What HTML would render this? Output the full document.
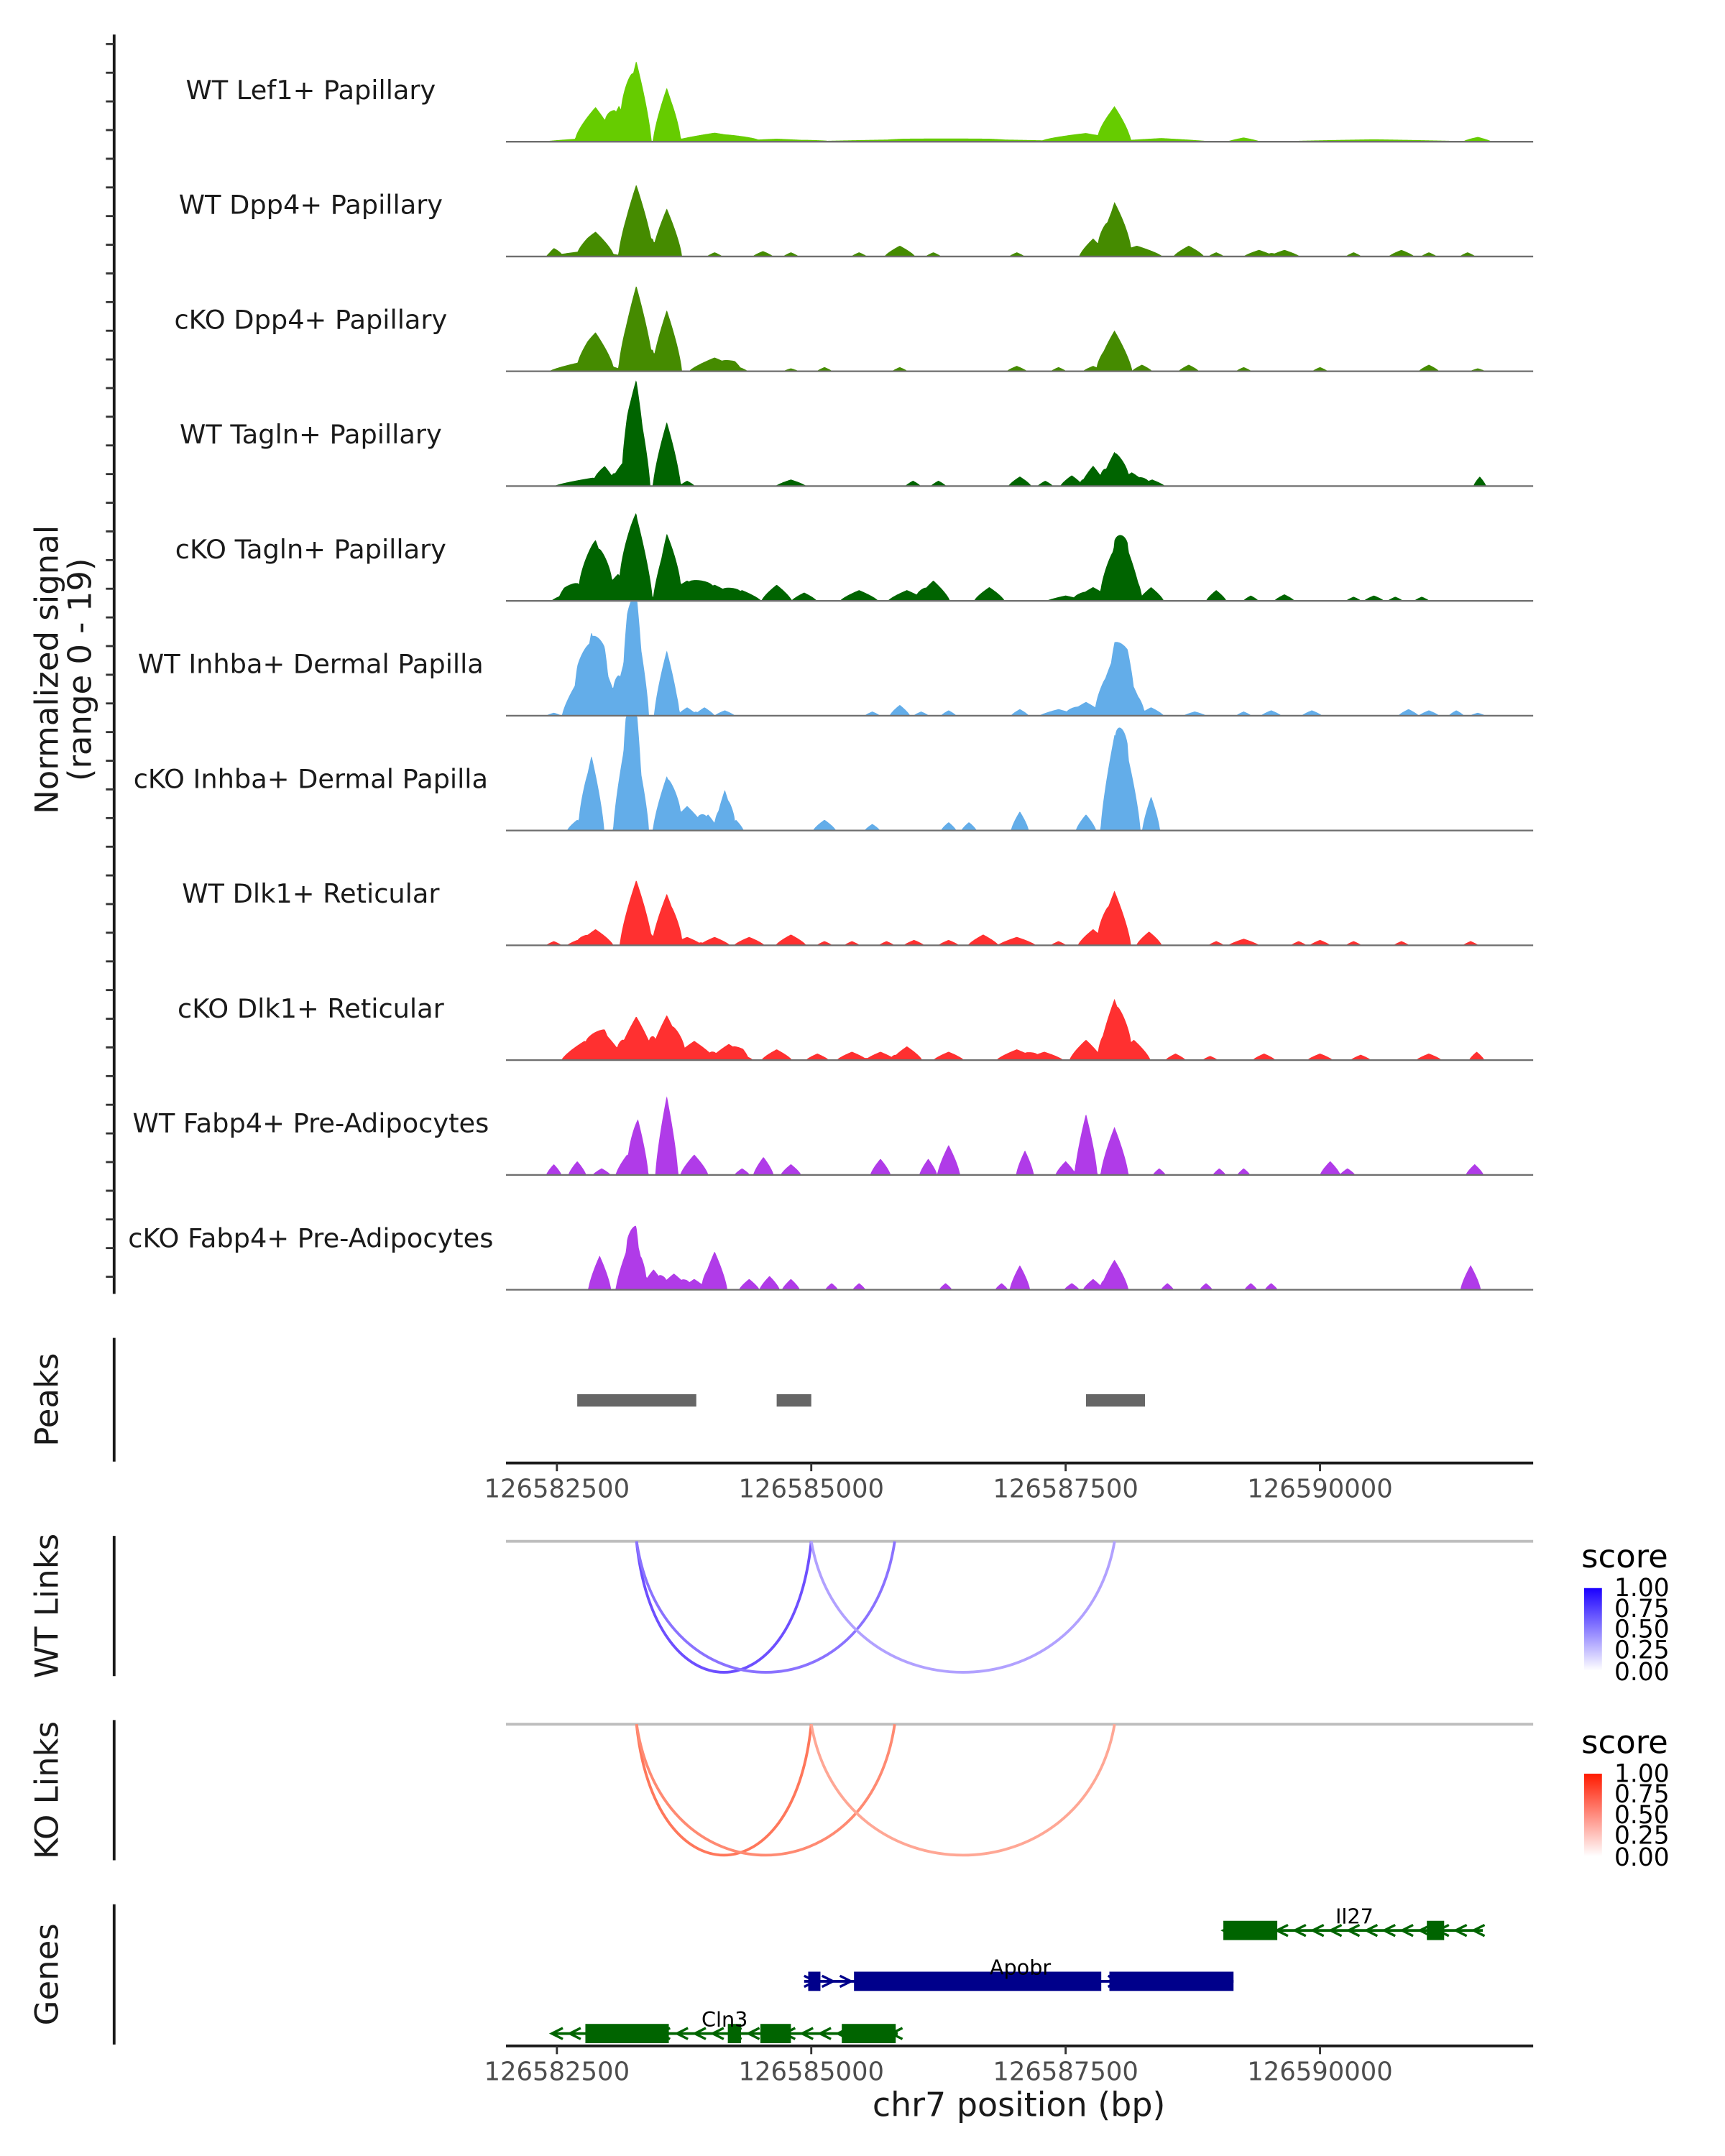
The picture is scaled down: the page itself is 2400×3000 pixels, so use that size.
<!DOCTYPE html>
<html><head><meta charset="utf-8">
<style>html,body{margin:0;padding:0;background:#fff}svg{display:block}text{font-family:"DejaVu Sans","Liberation Sans",sans-serif}</style>
</head><body>
<svg id="chart" xmlns="http://www.w3.org/2000/svg" width="2400" height="3000" viewBox="0 0 1254.5 1568">
<defs>
<linearGradient id="gBlue" x1="0" y1="1" x2="0" y2="0"><stop offset="0" stop-color="#ffffff"/><stop offset="1" stop-color="#1a00ff"/></linearGradient>
<linearGradient id="gRed" x1="0" y1="1" x2="0" y2="0"><stop offset="0" stop-color="#ffffff"/><stop offset="1" stop-color="#ff1a00"/></linearGradient>
</defs>
<g id="tracks"></g>
<text transform="translate(42,487) rotate(-90)" text-anchor="middle" font-size="23.5" fill="#1a1a1a">Normalized signal</text>
<text transform="translate(66,487) rotate(-90)" text-anchor="middle" font-size="23.5" fill="#1a1a1a">(range 0 - 19)</text>
<line x1="83" y1="25" x2="83" y2="941" stroke="#1a1a1a" stroke-width="2"/>
<g id="sigticks"></g>
<text transform="translate(42,1018) rotate(-90)" text-anchor="middle" font-size="23.5" fill="#1a1a1a">Peaks</text>
<line x1="83" y1="973" x2="83" y2="1063" stroke="#1a1a1a" stroke-width="2"/>
<g id="peaks"></g>
<line x1="368" y1="1064" x2="1115" y2="1064" stroke="#1a1a1a" stroke-width="2"/>
<g id="xticks1"></g>
<text transform="translate(42,1168) rotate(-90)" text-anchor="middle" font-size="23.5" fill="#1a1a1a">WT Links</text>
<line x1="83" y1="1117" x2="83" y2="1219" stroke="#1a1a1a" stroke-width="2"/>
<line x1="368" y1="1121" x2="1115" y2="1121" stroke="#bdbdbd" stroke-width="2"/>
<g id="wtlinks"></g>
<text transform="translate(42,1302) rotate(-90)" text-anchor="middle" font-size="23.5" fill="#1a1a1a">KO Links</text>
<line x1="83" y1="1251" x2="83" y2="1353" stroke="#1a1a1a" stroke-width="2"/>
<line x1="368" y1="1254" x2="1115" y2="1254" stroke="#bdbdbd" stroke-width="2"/>
<g id="kolinks"></g>
<g>
<text x="1150" y="1140" font-size="23.5" fill="#000">score</text>
<rect x="1152" y="1155" width="13" height="60" fill="url(#gBlue)"/>
<g font-size="18" fill="#000"><text x="1174" y="1161">1.00</text><text x="1174" y="1176">0.75</text><text x="1174" y="1191">0.50</text><text x="1174" y="1206">0.25</text><text x="1174" y="1222">0.00</text></g>
</g>
<g>
<text x="1150" y="1275" font-size="23.5" fill="#000">score</text>
<rect x="1152" y="1290" width="13" height="60" fill="url(#gRed)"/>
<g font-size="18" fill="#000"><text x="1174" y="1296">1.00</text><text x="1174" y="1311">0.75</text><text x="1174" y="1326">0.50</text><text x="1174" y="1341">0.25</text><text x="1174" y="1357">0.00</text></g>
</g>
<text transform="translate(42,1436) rotate(-90)" text-anchor="middle" font-size="23.5" fill="#1a1a1a">Genes</text>
<line x1="83" y1="1385" x2="83" y2="1487" stroke="#1a1a1a" stroke-width="2"/>
<g id="genes"></g>
<line x1="368" y1="1488" x2="1115" y2="1488" stroke="#1a1a1a" stroke-width="2"/>
<g id="xticks2"></g>
<text x="741" y="1539" text-anchor="middle" font-size="24" fill="#1a1a1a">chr7 position (bp)</text>
</svg>
<script>
const trackNames=["WT Lef1+ Papillary","WT Dpp4+ Papillary","cKO Dpp4+ Papillary","WT Tagln+ Papillary","cKO Tagln+ Papillary","WT Inhba+ Dermal Papilla","cKO Inhba+ Dermal Papilla","WT Dlk1+ Reticular","cKO Dlk1+ Reticular","WT Fabp4+ Pre-Adipocytes","cKO Fabp4+ Pre-Adipocytes"];
const trackColors=["#66cc00","#458b00","#458b00","#006400","#006400","#63ade9","#63ade9","#ff3030","#ff3030","#b03be8","#b03be8"];
// peaks: [center bp, height (0-19), half-width bp]
const lef1WT=[[126582700,0.5,270],[126582880,5.5,160],[126583110,6,110],[126583280,13.5,120],[126583580,9,110],[126584050,1.5,340],[126584660,0.5,400],[126585900,0.4,800],[126586750,0.4,800],[126587700,1.4,340],[126587980,5.2,130],[126588440,0.6,400],[126589250,0.7,130],[126590530,0.4,800],[126591550,0.8,110]];
const dpp4WT=[[126582470,1.2,60],[126582800,1,300],[126582880,3.3,140],[126583280,12,140],[126583580,8,120],[126584050,0.7,60],[126584525,0.9,80],[126584800,0.7,60],[126585470,0.7,60],[126585870,1.8,120],[126586200,0.7,60],[126587020,0.7,60],[126587770,3,110],[126587980,8.7,130],[126588200,1.8,200],[126588710,1.8,120],[126588980,0.7,60],[126589400,1.1,120],[126589650,1.1,120],[126590330,0.7,60],[126590800,1.1,100],[126591070,0.7,60],[126591450,0.7,60]];
const dpp4KO=[[126582800,1.8,300],[126582880,5,140],[126583280,14.3,140],[126583580,10.2,120],[126584050,2.3,200],[126584250,1,100],[126584800,0.5,60],[126585130,0.7,60],[126585870,0.7,60],[126587020,0.9,80],[126587430,0.7,60],[126587770,0.9,80],[126587980,6.8,140],[126588250,1.1,80],[126588710,1.1,80],[126589250,0.7,60],[126590000,0.7,60],[126591070,1.1,80],[126591550,0.5,60]];
const taglnWT=[[126582850,1.4,300],[126582970,2.3,80],[126583190,4.5,120],[126583280,15.5,110],[126583580,10.7,110],[126583780,0.9,60],[126584800,1.1,120],[126586000,0.9,60],[126586250,0.9,60],[126587050,1.6,90],[126587300,0.9,60],[126587560,1.8,90],[126587770,3.4,100],[126587980,5.7,110],[126588150,2.3,130],[126588350,1.1,100],[126591570,1.6,50]];
const taglnKO=[[126582570,1.1,100],[126582700,3,140],[126582880,10.2,130],[126583100,4.5,150],[126583280,14.3,130],[126583580,10.2,110],[126583780,3.4,200],[126584050,2.7,200],[126584320,1.8,150],[126584660,2.7,120],[126584930,1.4,100],[126585470,1.8,150],[126585940,1.8,150],[126586200,3.4,130],[126586750,2.3,120],[126587500,0.9,150],[126587770,2.3,150],[126587980,9.1,110],[126588110,8.6,110],[126588340,2.3,100],[126588980,1.8,80],[126589320,0.9,60],[126589650,1.1,80],[126590330,0.7,60],[126590530,0.9,80],[126590740,0.7,60],[126591000,0.7,60]];
const inhbaWT=[[126582470,0.5,60],[126582700,5.7,120],[126582840,11.4,130],[126582970,8,120],[126583190,10.9,110],[126583280,15.9,100],[126583580,10.9,100],[126583780,1.4,80],[126583950,1.4,80],[126584150,0.9,80],[126585600,0.7,60],[126585870,1.8,80],[126586080,0.7,60],[126586350,0.9,60],[126587050,1.1,70],[126587430,1.1,150],[126587700,2.3,150],[126587980,10.2,150],[126588110,6.8,130],[126588340,1.4,100],[126588770,0.7,90],[126589250,0.7,60],[126589520,0.9,80],[126589920,0.9,80],[126590870,1.1,80],[126591070,0.9,80],[126591340,0.9,60],[126591550,0.5,60]];
const inhbaKO=[[126582700,1.8,80],[126582840,12.5,100],[126583190,16.4,110],[126583280,13.6,100],[126583580,9.1,110],[126583780,4.1,150],[126583985,2.7,80],[126584150,6.8,80],[126584260,1.8,60],[126585130,1.8,90],[126585600,1.1,60],[126586350,1.4,60],[126586550,1.4,60],[126587050,3.2,70],[126587700,2.7,80],[126587980,15.9,110],[126588110,12.5,100],[126588340,5.7,70]];
const dlk1WT=[[126582470,0.7,60],[126582700,0.9,80],[126582880,2.7,140],[126583280,10.9,130],[126583580,8.6,120],[126583780,1.4,120],[126584050,1.4,120],[126584390,1.4,120],[126584800,1.8,120],[126585130,0.7,60],[126585400,0.7,60],[126585740,0.7,60],[126586010,0.9,80],[126586350,0.9,80],[126586690,1.8,120],[126587020,1.4,150],[126587430,0.7,60],[126587770,2.7,120],[126587980,9.1,130],[126588320,2.3,100],[126588980,0.7,60],[126589250,1.1,120],[126589790,0.7,60],[126590000,0.9,80],[126590330,0.7,60],[126590800,0.7,60],[126591480,0.7,60]];
const dlk1KO=[[126582770,3.2,180],[126582970,4.5,150],[126583280,7.3,150],[126583580,7.5,140],[126583850,3.2,170],[126584190,2.7,150],[126584330,0.9,80],[126584660,1.8,120],[126585060,1.1,90],[126585400,1.4,120],[126585680,1.4,120],[126585940,2.3,120],[126586350,1.4,120],[126587020,1.8,160],[126587290,1.4,150],[126587700,3.4,130],[126587980,10.2,130],[126588170,3.4,130],[126588580,1.1,80],[126588920,0.7,60],[126589450,1.1,90],[126590000,1.1,100],[126590400,0.9,80],[126591070,1.1,100],[126591540,1.4,60]];
const fabp4WT=[[126582470,1.8,60],[126582700,2.3,70],[126582940,1.1,70],[126583190,3.4,90],[126583300,9.1,80],[126583580,13.2,90],[126583850,3.4,110],[126584320,1.1,60],[126584530,3,80],[126584800,1.8,80],[126585680,2.7,80],[126586150,2.7,70],[126586350,5,90],[126587100,4.1,70],[126587500,2.3,80],[126587700,10.2,90],[126587980,8,110],[126588420,1.1,50],[126589010,1.1,50],[126589250,1.1,50],[126590100,2.3,80],[126590270,1.1,60],[126591520,1.8,70]];
const fabp4KO=[[126582920,5.7,90],[126583190,6.8,90],[126583280,8.6,80],[126583450,3.4,100],[126583650,2.7,120],[126583850,1.8,100],[126584050,6.4,100],[126584390,1.8,80],[126584590,2.3,80],[126584800,1.8,70],[126585200,1.1,50],[126585470,1.1,50],[126586320,1.1,50],[126586870,1.1,50],[126587050,4.1,80],[126587560,1.1,60],[126587770,1.8,80],[126587980,5,110],[126588500,1.1,50],[126588880,1.1,50],[126589320,1.1,50],[126589520,1.1,50],[126591480,4.1,80]];
const trackPeaks=[lef1WT,dpp4WT,dpp4KO,taglnWT,taglnKO,inhbaWT,inhbaKO,dlk1WT,dlk1KO,fabp4WT,fabp4KO];
const peakStarts=[126582700,126584660,126587700];
const peakEnds=[126583870,126585000,126588280];
const xTickValues=[126582500,126585000,126587500,126590000];
const linkStarts=[126583283,126583283,126585000];
const linkEnds=[126585000,126585820,126587981];
const wtScores=[0.75,0.6,0.4];
const koScores=[0.7,0.6,0.45];
const yMax=19;

const NS="http://www.w3.org/2000/svg";
const X0=368,X1=1115,BP0=126582000,BP1=126592095;
function xs(bp){return X0+(bp-BP0)*(X1-X0)/(BP1-BP0);}
const trackH=83;
function el(tag,attrs,parent){const e=document.createElementNS(NS,tag);for(const k in attrs)e.setAttribute(k,attrs[k]);parent.appendChild(e);return e;}
const gT=document.getElementById('tracks');
trackPeaks.forEach((pk,i)=>{
  const base=103+i*83.5;
  const g=el('g',{},gT);
  
  
  const lab=el('text',{x:226,y:base-31,'text-anchor':'middle','font-size':'19.2',fill:'#1a1a1a'},g);
  lab.textContent=trackNames[i];
  
  
  let d='M'+X0+','+base;
  for(let px=X0;px<=X1;px+=0.5){
    const bp=BP0+(px-X0)*(BP1-BP0)/(X1-X0);
    let v=0;
    pk.forEach(p=>{const t=1-Math.abs(bp-p[0])/(p[2]*1.25);if(t>0)v+=p[1]*Math.pow(t,0.75);});
    v=Math.min(v,yMax);
    d+=' L'+px.toFixed(1)+','+(base-v*trackH/yMax).toFixed(2);
  }
  d+=' L'+X1+','+base+' Z';
  const a=el('path',{d:d,fill:trackColors[i]},g);
  
  
  const bl=el('line',{x1:X0,y1:base,x2:X1,y2:base,stroke:'#6e6e6e','stroke-width':1.2},g);
  
  
});
const gST=document.getElementById('sigticks');
for(let y=32;y<=941;y+=20.85){const t=el('line',{x1:77,y1:y,x2:83,y2:y,stroke:'#333','stroke-width':1.5},gST);
  
  }
const gP=document.getElementById('peaks');
peakStarts.forEach((s,i)=>{const r=el('rect',{x:xs(s),y:1014,width:xs(peakEnds[i])-xs(s),height:9,fill:'#666'},gP);
  
  });
function ticks(id,y){const g=document.getElementById(id);xTickValues.forEach(v=>{
  const l=el('line',{x1:xs(v),y1:y,x2:xs(v),y2:y+6,stroke:'#333','stroke-width':1.5},g);
  
  
  const t=el('text',{x:xs(v),y:y+25,'text-anchor':'middle','font-size':'18.5',fill:'#4d4d4d'},g);t.textContent=v;
  
  });}
ticks('xticks1',1064);ticks('xticks2',1488);
function mix(c,s){return 'rgb('+c.map(v=>Math.round(255+(v-255)*s)).join(',')+')';}
function links(id,y0,scores,col){const g=document.getElementById(id);linkStarts.forEach((s,i)=>{
  const a=xs(s),b=xs(linkEnds[i]),dep=127;
  const p=el('path',{d:`M${a},${y0} C${a+(b-a)*0.1},${y0+dep} ${b-(b-a)*0.1},${y0+dep} ${b},${y0}`,fill:'none',stroke:mix(col,scores[i]),'stroke-width':2},g);
  
  });}
links('wtlinks',1121,wtScores,[60,20,255]);
links('kolinks',1254,koScores,[255,60,20]);
const geneNames=["Il27","Apobr","Cln3"];
const geneStart=[126589050,126584930,126582450];
const geneEnd=[126591600,126589150,126585850];
const geneStrand=[-1,1,-1];
const geneRow=[1404,1441,1479];
const geneColor=["#006400","#00008b","#006400"];
const geneExons=[[[126589050,126589580],[126591050,126591220]],[[126584970,126585090],[126585420,126587850],[126587930,126589150]],[[126582780,126583600],[126584180,126584310],[126584500,126584800],[126585300,126585830]]];
const gG=document.getElementById('genes');
geneNames.forEach((n,i)=>{
  const g=el('g',{},gG);
  
  
  const y=geneRow[i],c=geneColor[i];
  el('line',{x1:xs(geneStart[i]),y1:y,x2:xs(geneEnd[i]),y2:y,stroke:c,'stroke-width':2},g);
  for(let x=xs(geneStart[i])+4;x<xs(geneEnd[i]);x+=13){
    const dx=geneStrand[i]*4;
    el('path',{d:`M${x-dx},${y-4} L${x+dx},${y} L${x-dx},${y+4}`,fill:'none',stroke:c,'stroke-width':1.8},g);
  }
  geneExons[i].forEach(e=>el('rect',{x:xs(e[0]),y:y-7,width:xs(e[1])-xs(e[0]),height:14,fill:c},g));
  const lx=i==0?985:(i==1?742:527);
  const t=el('text',{x:lx,y:y-5,'text-anchor':'middle','font-size':'15',fill:'#000'},g);t.textContent=n;
});
</script>
</body></html>
